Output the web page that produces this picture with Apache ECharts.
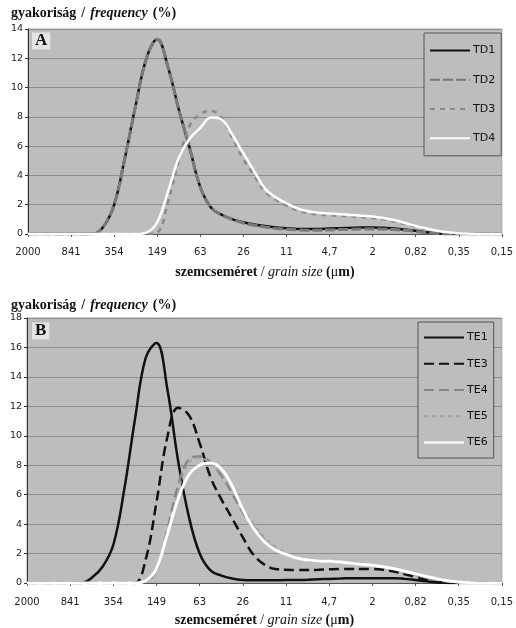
<!DOCTYPE html>
<html>
<head>
<meta charset="utf-8">
<script src="https://cdn.jsdelivr.net/npm/echarts@6/dist/echarts.min.js"></script>
<style>
  html, body { margin: 0; padding: 0; background: #ffffff; }
  #chart { width: 516px; height: 628px; }
</style>
</head>
<body>
<div id="chart"></div>
<script>
// Grain size tick labels (µm), coarse to fine, and quarter-step sampling between them
const sizeLabels = ['2000', '841', '354', '149', '63', '26', '11', '4,7', '2', '0,82', '0,35', '0,15'];
const stepsPerLabel = 4;

// Panel A: frequency (%)
const TD1 = [0,0,0,0,0,0,0,0.5,2.0,5.2,8.8,12.0,13.3,11.4,8.5,5.9,3.2,1.8,1.3,1.0,0.8,0.65,0.55,0.45,0.4,0.35,0.35,0.35,0.38,0.4,0.42,0.45,0.45,0.42,0.38,0.3,0.22,0.12,0.05,0,0,0,0,0,0];
const TD2 = [0,0,0,0,0,0,0,0.5,2.0,5.2,8.8,12.0,13.3,11.4,8.5,5.9,3.2,1.8,1.3,1.0,0.75,0.6,0.48,0.38,0.32,0.28,0.26,0.26,0.28,0.3,0.32,0.34,0.35,0.33,0.3,0.25,0.18,0.1,0.04,0,0,0,0,0,0];
const TD3 = [0,0,0,0,0,0,0,0,0,0,0,0,0.1,2.2,5.0,7.4,8.2,8.4,7.9,6.5,5.1,4.0,2.9,2.35,1.95,1.62,1.42,1.33,1.28,1.24,1.2,1.15,1.1,1.0,0.86,0.68,0.5,0.33,0.2,0.1,0.04,0.01,0,0,0];
const TD4 = [0,0,0,0,0,0,0,0,0,0,0,0.1,0.8,2.9,5.2,6.5,7.25,7.95,7.8,6.75,5.5,4.3,3.1,2.5,2.1,1.75,1.55,1.45,1.4,1.35,1.3,1.25,1.2,1.1,0.95,0.75,0.55,0.38,0.22,0.12,0.05,0.02,0,0,0];

// Panel B: frequency (%)
const TE1 = [0,0,0,0,0,0,0.35,1.1,2.6,6.3,11.1,15.3,16.3,13.2,8.3,4.5,2.0,0.85,0.5,0.3,0.2,0.18,0.18,0.18,0.2,0.2,0.22,0.25,0.28,0.3,0.33,0.33,0.33,0.33,0.33,0.28,0.2,0.12,0.05,0,0,0,0,0,0];
const TE3 = [0,0,0,0,0,0,0,0,0,0,0,1.6,5.5,9.9,11.9,11.4,9.5,7.2,5.7,4.4,3.1,1.9,1.25,0.95,0.9,0.88,0.88,0.9,0.93,0.95,0.95,0.95,0.95,0.9,0.78,0.6,0.4,0.2,0.05,0,0,0,0,0,0];
const TE4 = [0,0,0,0,0,0,0,0,0,0,0,0.1,0.9,3.6,6.6,8.4,8.6,8.2,7.3,6.1,4.8,3.8,2.9,2.3,1.95,1.7,1.55,1.5,1.45,1.42,1.38,1.3,1.2,1.1,0.95,0.75,0.55,0.38,0.2,0.1,0.03,0,0,0,0];
const TE5 = [0,0,0,0,0,0,0,0,0,0,0,0.1,0.8,3.2,6.2,8.2,8.5,8.1,7.4,6.3,5.1,4.0,3.1,2.5,2.05,1.78,1.62,1.55,1.5,1.46,1.4,1.32,1.22,1.12,0.97,0.78,0.58,0.4,0.22,0.11,0.04,0,0,0,0];
const TE6 = [0,0,0,0,0,0,0,0,0,0,0,0.15,1.0,3.3,5.7,7.35,8.0,8.15,7.75,6.6,5.0,3.7,2.8,2.25,1.95,1.7,1.57,1.5,1.47,1.43,1.35,1.27,1.2,1.1,0.97,0.8,0.62,0.45,0.28,0.15,0.06,0.02,0,0,0];

const categories = Array.from({ length: (sizeLabels.length - 1) * stepsPerLabel + 1 }, (_, i) => String(i));

const serif = 'Liberation Serif';
const sans = 'DejaVu Sans';
const plotBg = '#bdbdbd';
const gridLine = '#8e8e8e';

const richTitle = {
  b: { fontFamily: serif, fontWeight: 'bold', fontSize: 14, color: '#111' },
  n: { fontFamily: serif, fontSize: 14, color: '#111' },
  i: { fontFamily: serif, fontStyle: 'italic', fontSize: 14, color: '#111' }
};

function xAxisFor(gridIndex, labelMargin, nameGap) {
  return {
    type: 'category',
    gridIndex,
    data: categories,
    boundaryGap: false,
    axisLine: { lineStyle: { color: '#555', width: 1 } },
    axisTick: { show: true, interval: stepsPerLabel - 1, length: 3, lineStyle: { color: '#555' } },
    axisLabel: {
      interval: stepsPerLabel - 1,
      margin: labelMargin,
      fontFamily: sans,
      fontSize: 10,
      color: '#222',
      formatter: (v, idx) => (idx % stepsPerLabel === 0 ? sizeLabels[idx / stepsPerLabel] : '')
    },
    splitLine: { show: false },
    name: '{b|szemcseméret} {n|/} {i|grain size} {b|(}{n|μ}{b|m)}',
    nameLocation: 'middle',
    nameGap,
    nameTextStyle: { rich: richTitle }
  };
}

function yAxisFor(gridIndex, max) {
  return {
    type: 'value',
    gridIndex,
    min: 0,
    max,
    interval: 2,
    axisLine: { show: true, lineStyle: { color: '#333', width: 1 } },
    axisTick: { show: true, length: 3, lineStyle: { color: '#333' } },
    axisLabel: { margin: 5, fontFamily: sans, fontSize: 9.5, color: '#222' },
    splitLine: { show: true, lineStyle: { color: gridLine, width: 1 } }
  };
}

function line(name, data, axis, color, width, dash) {
  return {
    name,
    type: 'line',
    xAxisIndex: axis,
    yAxisIndex: axis,
    data,
    smooth: 0.4,
    symbol: 'none',
    showSymbol: false,
    animation: false,
    lineStyle: { color, width, type: dash || 'solid' },
    itemStyle: { color },
    z: 3
  };
}

function legendFor(names, left, top, itemGap, padV) {
  return {
    data: names,
    orient: 'vertical',
    left,
    top,
    itemWidth: 40,
    itemHeight: 14,
    itemGap,
    padding: [padV, 6, padV, 5],
    backgroundColor: plotBg,
    borderColor: '#555',
    borderWidth: 1,
    borderRadius: 0,
    selectedMode: false,
    itemStyle: { opacity: 0 },
    textStyle: { fontFamily: sans, fontSize: 11, color: '#111', padding: [0, 0, 0, -2] }
  };
}

function panelTag(text, left, top) {
  return {
    text,
    left,
    top,
    padding: [0, 3, 0, 3],
    backgroundColor: '#e4e4e4',
    textStyle: { fontFamily: serif, fontWeight: 'bold', fontSize: 17, color: '#111', lineHeight: 16 }
  };
}

const chart = echarts.init(document.getElementById('chart'), null, { renderer: 'canvas' });
chart.setOption({
  backgroundColor: '#ffffff',
  animation: false,
  title: [
    { text: '{b|gyakoriság} {n|/} {i|frequency} {b|(%)}', left: 11, top: 4, padding: 0, textStyle: { rich: richTitle } },
    { text: '{b|gyakoriság} {n|/} {i|frequency} {b|(%)}', left: 11, top: 296, padding: 0, textStyle: { rich: richTitle } },
    panelTag('A', 32, 33),
    panelTag('B', 32, 323)
  ],
  legend: [
    legendFor(['TD1', 'TD2', 'TD3', 'TD4'], 424, 33, 18, 12),
    legendFor(['TE1', 'TE3', 'TE4', 'TE5', 'TE6'], 418, 322, 15, 10)
  ],
  grid: [
    { left: 28, top: 29, width: 478, height: 205, show: true, backgroundColor: plotBg, borderColor: '#a8a8a8', borderWidth: 1 },
    { left: 27, top: 318, width: 479, height: 265, show: true, backgroundColor: plotBg, borderColor: '#a8a8a8', borderWidth: 1 }
  ],
  xAxis: [xAxisFor(0, 13, 31), xAxisFor(1, 14, 30)],
  yAxis: [yAxisFor(0, 14), yAxisFor(1, 18)],
  series: [
    line('TD1', TD1, 0, '#111111', 2.5),
    line('TD2', TD2, 0, '#7a7a7a', 3, [10, 3]),
    line('TD3', TD3, 0, '#8a8a8a', 2.5, [5, 5]),
    line('TD4', TD4, 0, '#ffffff', 2.5),
    line('TE1', TE1, 1, '#111111', 2.5),
    line('TE3', TE3, 1, '#111111', 2.5, [10, 5]),
    line('TE4', TE4, 1, '#858585', 2.5, [10, 5]),
    line('TE5', TE5, 1, '#a2a2a2', 2, [4, 4]),
    line('TE6', TE6, 1, '#ffffff', 3)
  ]
});
</script>
</body>
</html>
